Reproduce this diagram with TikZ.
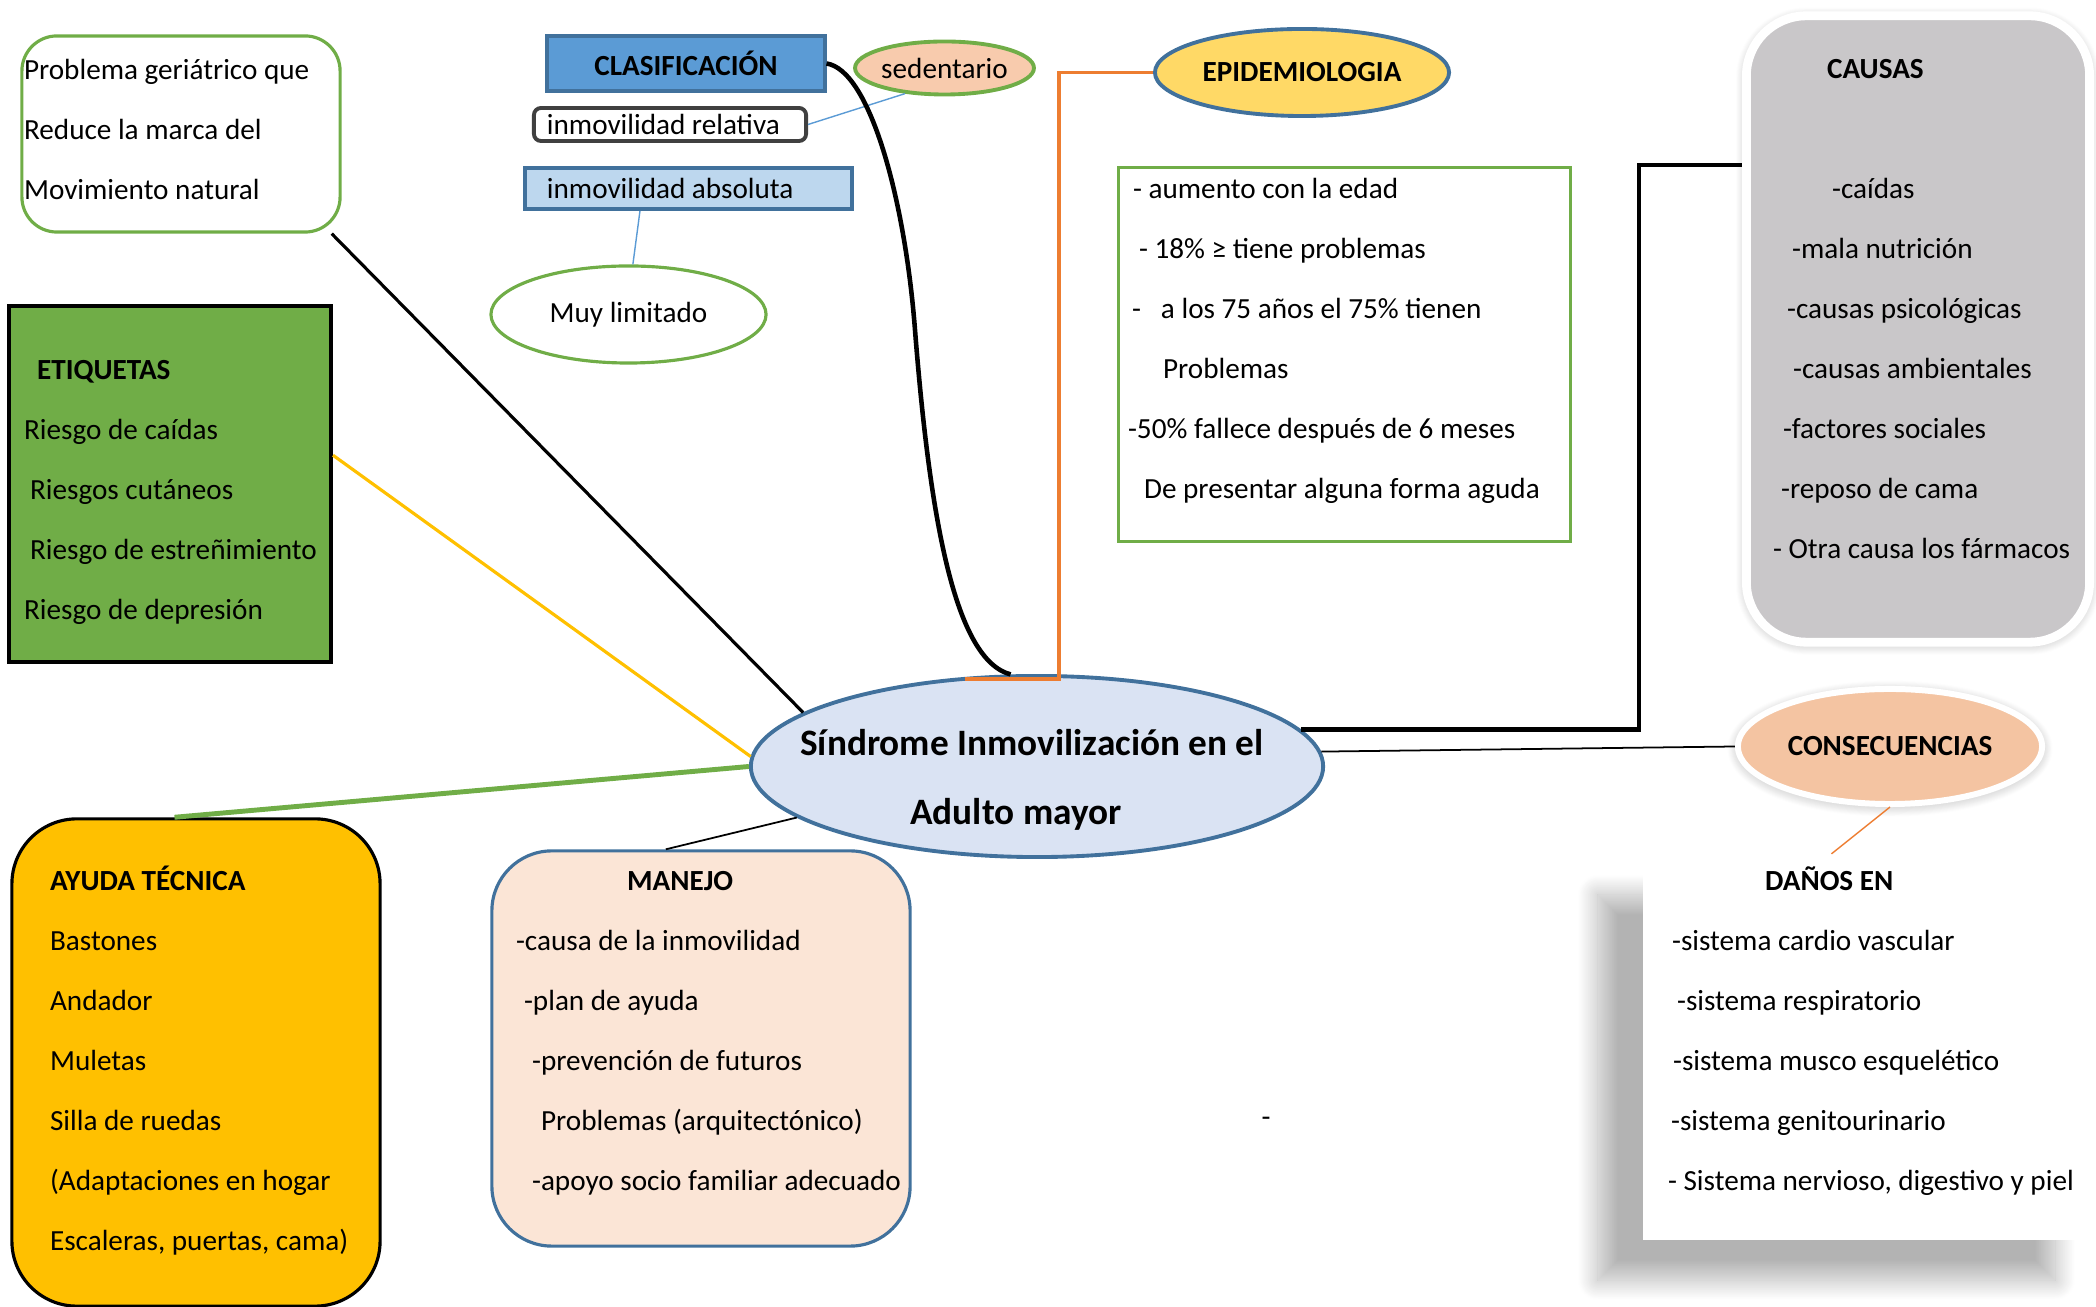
\documentclass[tikz,border=0pt]{standalone}
\usepackage{fontspec}
\setmainfont{Carlito}
\usepackage{tikz}
\usetikzlibrary{shapes.geometric,shadows.blur}

\definecolor{azul}{HTML}{5B9BD5}
\definecolor{azuloscuro}{HTML}{41719C}
\definecolor{celeste}{HTML}{BDD7EE}
\definecolor{lila}{HTML}{DAE3F3}
\definecolor{verde}{HTML}{70AD47}
\definecolor{ambar}{HTML}{FFC000}
\definecolor{amarillo}{HTML}{FFD966}
\definecolor{naranja}{HTML}{ED7D31}
\definecolor{durazno}{HTML}{F8CBAD}
\definecolor{salmon}{HTML}{F4C4A2}
\definecolor{rosa}{HTML}{FBE5D6}
\definecolor{gris}{HTML}{C9C7C9}
\definecolor{grisoscuro}{HTML}{404040}

\begin{document}
\begin{tikzpicture}[x=0.01cm,y=-0.01cm,semithick,
                    font=\fontsize{8.3}{17.07}\selectfont]
  \tikzstyle{every node}=[inner sep=0pt]
  \tikzstyle{texto}=[anchor=north west,align=left]
  \tikzstyle{borde}=[line width=0.9pt]
  \tikzstyle{brillo}=[draw=white,blur shadow={shadow xshift=0pt,shadow yshift=-0.6pt,
                      shadow blur radius=3pt,shadow blur steps=12,shadow opacity=30}]

  \useasboundingbox (0,0) rectangle (2096,1307);

  % cajas y elipses
  \node[draw=verde,borde,rounded corners=0.35cm,minimum width=3.18cm,minimum height=1.96cm] (geria) at (181,134) {};
  \node[fill=azul,draw=azuloscuro,line width=1.1pt,minimum width=2.77cm,minimum height=0.55cm,font=\fontsize{8.3}{17.07}\selectfont\bfseries] (clasif) at (686,63.5) {CLASIFICACIÓN};
  \node[ellipse,fill=durazno,draw=verde,line width=1.1pt,minimum width=1.67cm,minimum height=0.53cm] (sedent) at (944.5,68) {sedentario};
  \node[draw=grisoscuro,line width=1.1pt,rounded corners=2pt,minimum height=0.33cm,text width=2.46cm,inner xsep=0.13cm,align=flush left] (relativa) at (670,124.5) {inmovilidad relativa};
  \node[fill=celeste,draw=azuloscuro,line width=1.1pt,minimum height=0.41cm,text width=2.83cm,inner xsep=0.22cm,align=flush left] (absoluta) at (688.5,188.5) {inmovilidad absoluta};
  \node[ellipse,draw=verde,borde,minimum width=2.75cm,minimum height=0.97cm] (limitado) at (628.5,314.5) {Muy limitado};
  \node[ellipse,fill=amarillo,draw=azuloscuro,line width=1.1pt,minimum width=2.94cm,minimum height=0.87cm,font=\fontsize{8.3}{17.07}\selectfont\bfseries] (epidem) at (1302,72.5) {EPIDEMIOLOGIA};
  \node[draw=verde,borde,minimum width=4.51cm,minimum height=3.73cm] (epibox) at (1344.5,354.5) {};
  \node[brillo,fill=gris,line width=2.5pt,rounded corners=0.6cm,minimum width=3.43cm,minimum height=6.26cm] (causas) at (1918,329) {};
  \node[brillo,ellipse,fill=salmon,line width=1.7pt,minimum width=3.04cm,minimum height=1.15cm,font=\fontsize{8.3}{17.07}\selectfont\bfseries] (consec) at (1890,746.5) {CONSECUENCIAS};
  \node[fill=white,minimum width=4.57cm,minimum height=3.85cm,
        blur shadow={shadow xshift=-0.45cm,shadow yshift=-0.4cm,shadow blur radius=0.2cm,
                     shadow blur steps=30,shadow opacity=30}] (danos) at (1871.5,1047.5) {};
  \node[fill=ambar,draw=black,borde,rounded corners=0.65cm,minimum width=3.68cm,minimum height=4.87cm] (ayuda) at (196,1062.5) {};
  \node[fill=rosa,draw=azuloscuro,borde,rounded corners=0.6cm,minimum width=4.18cm,minimum height=3.95cm] (manejo) at (701,1048.5) {};
  \node[fill=verde,draw=black,line width=1.1pt,minimum width=3.22cm,minimum height=3.56cm] (etiq) at (170,484) {};
  \node[ellipse,fill=lila,draw=azuloscuro,line width=1.1pt,minimum width=5.72cm,minimum height=1.81cm] (sindrome) at (1037,766.5) {};

  % textos
  \node[texto] (geriatxt) at (23,58) {Problema geriátrico que\\Reduce la marca del\\Movimiento natural};
  \node[texto] (etiqtxt) at (23,359) {\hspace*{0.13cm}\textbf{ETIQUETAS}\\Riesgo de caídas\\
        \hspace*{0.06cm}Riesgos cutáneos\\\hspace*{0.06cm}Riesgo de estreñimiento\\Riesgo de depresión};
  \node[texto] (ayudatxt) at (49,865) {\textbf{AYUDA TÉCNICA}\\Bastones\\Andador\\Muletas\\Silla de ruedas\\
        (Adaptaciones en hogar\\Escaleras, puertas, cama)};
  \node[texto] (manejotxt) at (515,870) {\hspace*{1.11cm}\textbf{MANEJO}\\-causa de la inmovilidad\\
        \hspace*{0.08cm}-plan de ayuda\\\hspace*{0.16cm}-prevención de futuros\\
        \hspace*{0.25cm}Problemas (arquitectónico)\\\hspace*{0.16cm}-apoyo socio familiar adecuado};
  \node[texto] (epitxt) at (1127,177) {\hspace*{0.05cm}- aumento con la edad\\\hspace*{0.11cm}- 18\% ≥ tiene problemas\\
        \hspace*{0.04cm}-\hspace*{0.2cm}a los 75 años el 75\% tienen\\\hspace*{0.35cm}Problemas\\
        -50\% fallece después de 6 meses\\\hspace*{0.16cm}De presentar alguna forma aguda};
  \node[texto] (causastxt) at (1772,58) {\hspace*{0.54cm}\textbf{CAUSAS}\\[17.07pt]
        \hspace*{0.59cm}-caídas\\\hspace*{0.19cm}-mala nutrición\\\hspace*{0.14cm}-causas psicológicas\\
        \hspace*{0.2cm}-causas ambientales\\\hspace*{0.1cm}-factores sociales\\\hspace*{0.08cm}-reposo de cama\\
        - Otra causa los fármacos};
  \node[texto] (danostxt) at (1667,866) {\hspace*{0.97cm}\textbf{DAÑOS EN}\\\hspace*{0.04cm}-sistema cardio vascular\\
        \hspace*{0.09cm}-sistema respiratorio\\\hspace*{0.05cm}-sistema musco esquelético\\
        \hspace*{0.03cm}-sistema genitourinario\\- Sistema nervioso, digestivo y piel};
  \node[font=\fontsize{10.6}{19.7}\selectfont\bfseries,align=center,anchor=north] (sindtxt) at (1032,728)
        {Síndrome Inmovilización en el\\Adulto mayor\hspace*{0.32cm}};
  \node (guion) at (1266,1122) {-};

  % conectores
  \coordinate (pie) at (965,679);
  \coordinate (codo) at (1059,679);
  \coordinate (esq) at (1639,165);

  \draw[azul,line width=0.4pt]
        (relativa.east) edge (sedent.213)
        ([xshift=-0.485cm]absoluta.south) edge (limitado.85);
  \draw[black,line width=0.9pt]
        ([xshift=-0.1cm]geria.south east) edge (sindrome.167);
  \draw[ambar,line width=0.9pt] (etiq.10) -- (sindrome.178);
  \draw[verde,line width=1.4pt] (ayuda.95) -- (sindrome.180);
  \draw[black,line width=0.5pt]
        (manejo.100) edge (sindrome.192)
        (sindrome.3) edge (consec.west);
  \draw[line width=1.3pt] (clasif.east) .. controls (870,70) and (905,200) .. (915,330)
        .. controls (930,520) and (955,660) .. (sindrome.106);
  \draw[naranja,line width=1pt] (epidem.west) -| (codo) -- (pie);
  \draw[line width=1.2pt] (sindrome.8) -| (esq) -- (esq -| causas.west);
  \draw[naranja,line width=0.4pt] (consec.south) -- ([xshift=-0.4cm]danos.north);
\end{tikzpicture}
\end{document}
